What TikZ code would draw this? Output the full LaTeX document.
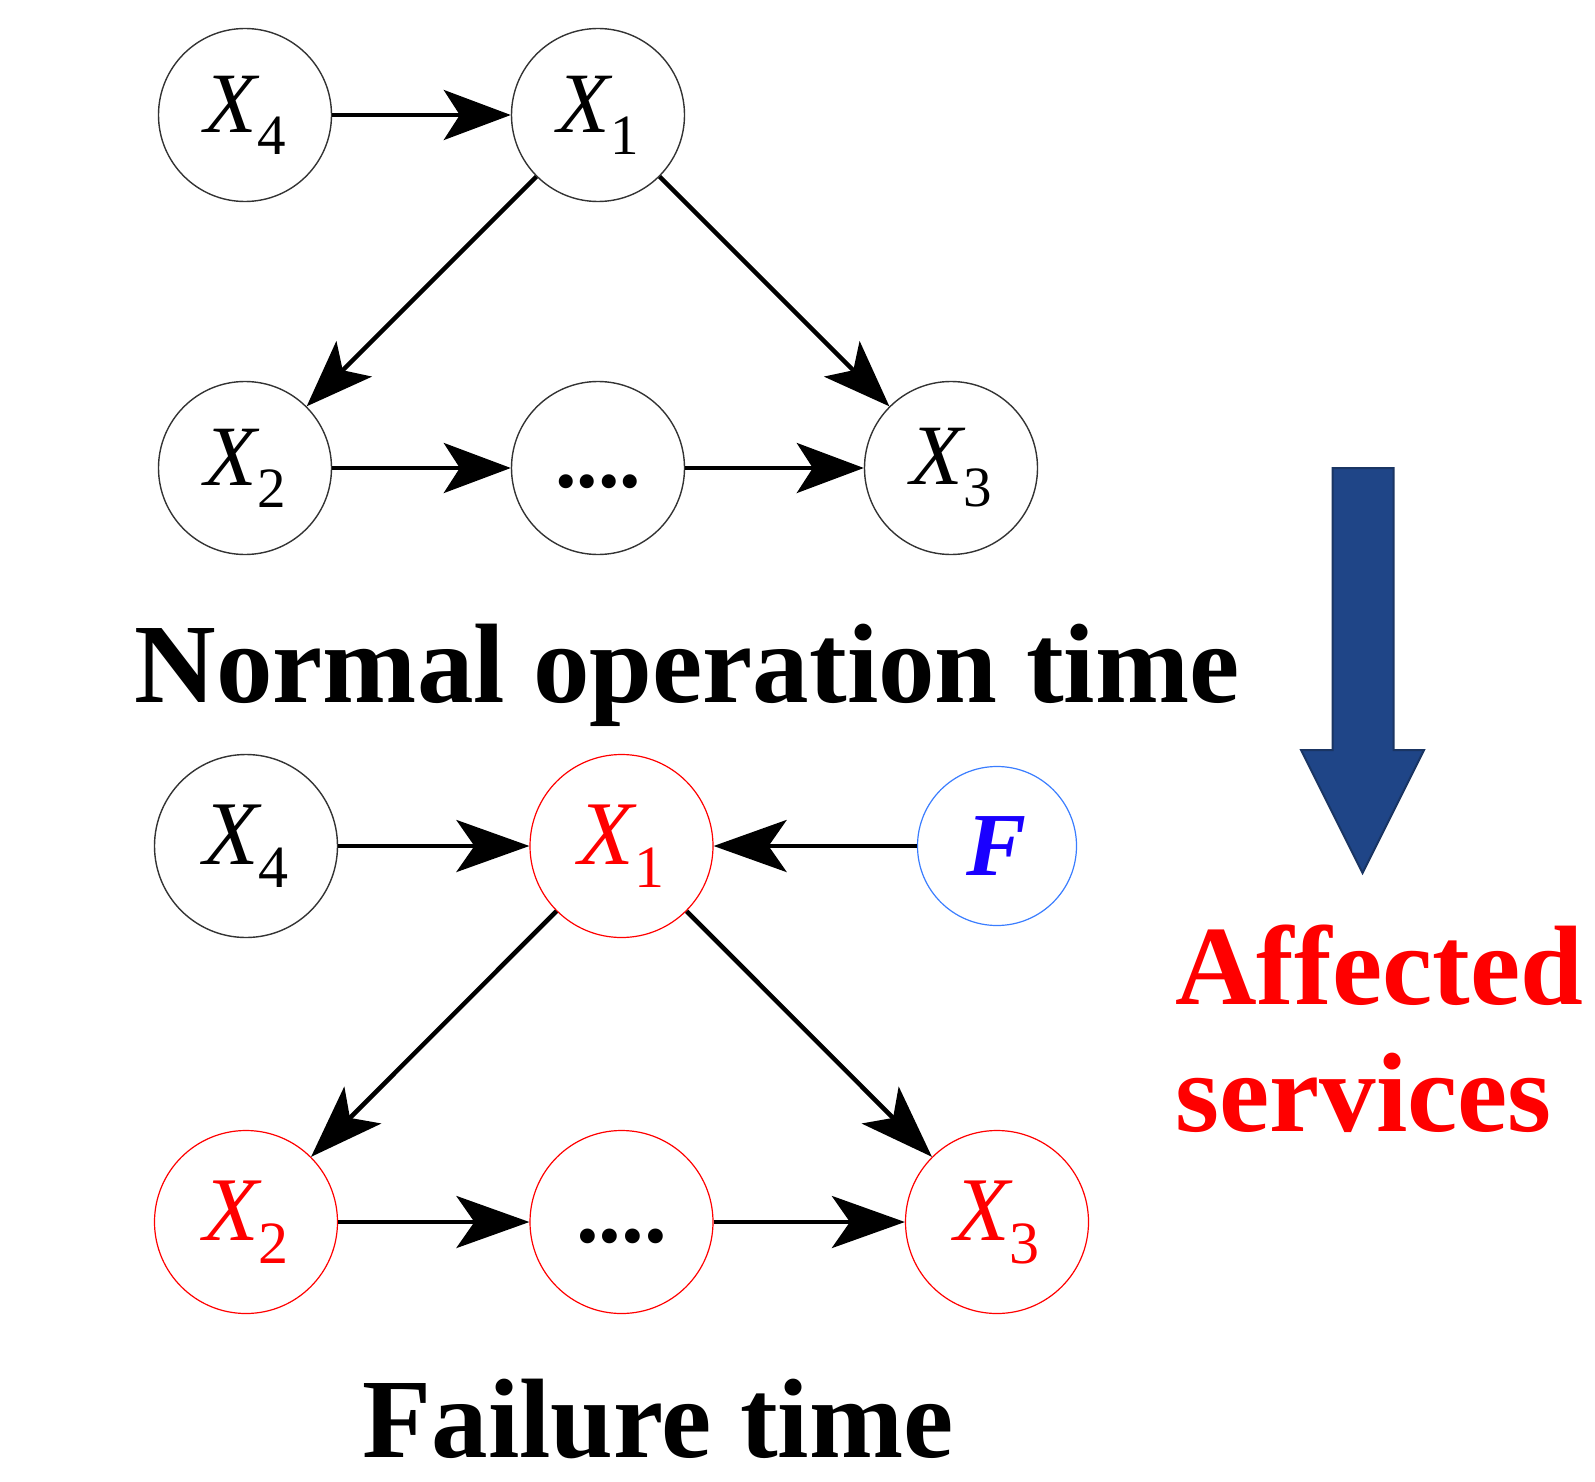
\documentclass[tikz,border=0pt]{standalone}
\usepackage{fontspec}
\setmainfont{Liberation Serif}
\usetikzlibrary{arrows.meta}

\definecolor{ringgray}{HTML}{333333}
\definecolor{failred}{HTML}{FF0000}
\definecolor{ringblue}{HTML}{3A7DFF}
\definecolor{fblue}{HTML}{1A00FF}
\definecolor{downfill}{HTML}{1F4587}
\definecolor{downedge}{HTML}{1A3563}

% variable label: X with a lowered subscript
\newcommand\XS[4]{{\fontsize{#1}{#1}\selectfont\itshape X}\raisebox{-#3}{\fontsize{#2}{#2}\selectfont #4}}
% four dots set a little above the baseline
\newcommand\DOTS[1]{\fontsize{#1}{#1}\selectfont\bfseries\vphantom{X}\raisebox{9pt}{....}}

\tikzset{
  topv/.style={circle,draw=ringgray,line width=1.4pt,minimum size=173pt,inner sep=0pt},
  botv/.style={circle,draw=ringgray,line width=1.4pt,minimum size=183pt,inner sep=0pt},
  hit/.style={draw=failred,line width=1.2pt,text=failred},
  cause/.style={circle,draw=ringblue,line width=1.2pt,minimum size=159pt,inner sep=0pt,
    text=fblue,font=\bfseries\itshape\fontsize{90}{90}\selectfont},
  toparr/.style={line width=4.3pt,-{Stealth[length=67pt,width=50pt,inset=16pt]}},
  botarr/.style={line width=4.5pt,-{Stealth[length=73pt,width=52pt,inset=18pt]}},
  caption/.style={inner sep=0pt,anchor=base,font=\bfseries\fontsize{113}{127}\selectfont}
}

\begin{document}
\begin{tikzpicture}[x=1pt,y=-1pt]
\useasboundingbox (0,0) rectangle (1595,1482);

% normal operation graph
\node[topv] (a4) at (245,115) {\XS{86}{57}{22pt}{4}};
\node[topv] (a1) at (598,115) {\XS{86}{57}{22pt}{1}};
\node[topv] (a2) at (245,468) {\XS{86}{57}{22pt}{2}};
\node[topv] (ad) at (598,468) {\DOTS{86}};
\node[topv] (a3) at (951,468) {\XS{86}{57}{22pt}{3}};

\draw[toparr] (a4) -- (a1);
\draw[toparr] (a1) -- (a2);
\draw[toparr] (a1) -- (a3);
\draw[toparr] (a2) -- (ad);
\draw[toparr] (ad) -- (a3);

\node[caption] (ncap) at (687,702) {Normal operation time};

% failure graph
\node[botv] (b4) at (246,846) {\XS{91}{60}{23pt}{4}};
\node[botv,hit] (b1) at (621.5,846) {\XS{91}{60}{23pt}{1}};
\node[cause] (bf) at (997,846) {F};
\node[botv,hit] (b2) at (246,1222) {\XS{91}{60}{23pt}{2}};
\node[botv,hit,text=black] (bd) at (621.5,1222) {\DOTS{91}};
\node[botv,hit] (b3) at (997,1222) {\XS{91}{60}{23pt}{3}};

\draw[botarr] (b4) -- (b1);
\draw[botarr] (bf) -- (b1);
\draw[botarr] (b1) -- (b2);
\draw[botarr] (b1) -- (b3);
\draw[botarr] (b2) -- (bd);
\draw[botarr] (bd) -- (b3);

\node[caption] (fcap) at (658,1457) {Failure time};

% transition arrow and affected services
\draw[fill=downfill,draw=downedge,line width=2pt,line join=miter]
  (1332.5,468) -- (1393.5,468) -- (1393.5,750) -- (1424,750) -- (1362.5,873)
  -- (1301,750) -- (1332.5,750) -- cycle;
\node[caption,anchor=base west,text=failred,align=left] (aff) at (1175,1131) {Affected\\services};
\end{tikzpicture}
\end{document}
